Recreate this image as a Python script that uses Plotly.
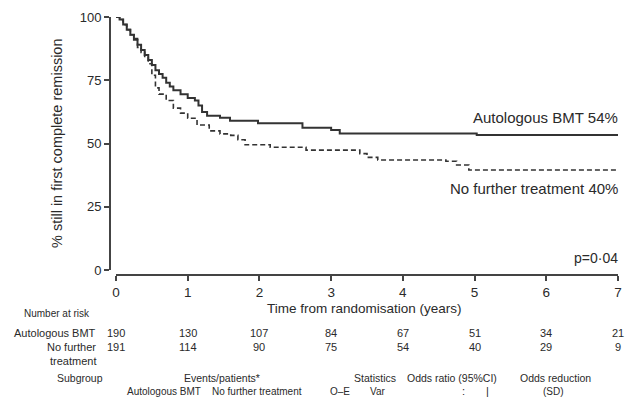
import plotly.graph_objects as go

# ---- data ----
years_bmt = [0, 0.05, 0.1, 0.15, 0.2, 0.25, 0.3, 0.35, 0.4, 0.45, 0.5, 0.55, 0.6, 0.65, 0.7,
             0.75, 0.8, 0.9, 1.0, 1.1, 1.15, 1.2, 1.27, 1.45, 1.59, 1.98, 2.6, 3.0, 3.12, 5.03, 7.0]
pct_bmt = [100, 99, 97, 95, 93, 91, 89, 87, 85, 83, 81, 79, 77.5, 76, 74,
           72.5, 71, 69.5, 68, 67, 65, 62.5, 61, 60.2, 59, 58, 56.2, 55.3, 54, 53.4, 53.4]

years_nft = [0, 0.05, 0.1, 0.15, 0.2, 0.25, 0.3, 0.35, 0.4, 0.45, 0.5, 0.55, 0.6, 0.7, 0.8,
             0.9, 1.0, 1.13, 1.3, 1.45, 1.6, 1.7, 1.8, 2.15, 2.65, 3.4, 3.5, 3.65, 4.6, 4.75, 4.92, 7.0]
pct_nft = [100, 99, 97, 95, 93, 91.5, 88, 86, 84, 81.5, 77, 72, 69.5, 67, 64,
           62, 60, 57.3, 55, 53.8, 53.2, 51.5, 49.5, 48.5, 47.4, 46, 44.5, 43.5, 43, 41.5, 39.5, 39.5]

x_ticks = [0, 1, 2, 3, 4, 5, 6, 7]
y_ticks = [0, 25, 50, 75, 100]
risk_bmt = [190, 130, 107, 84, 67, 51, 34, 21]
risk_nft = [191, 114, 90, 75, 54, 40, 29, 9]

OFF = 8  # page body margin
W, H = 635 - OFF, 404 - OFF
L, R, T, B = 110 - OFF, 618 - OFF, 17 - OFF, 275 - OFF  # plot area in figure pixels


def px(x):
    return (x - OFF - L) / (R - L)


def py(y):
    return (B - (y - OFF)) / (B - T)


INK = "#2a2a2a"
FONT = "Liberation Sans, Arial, sans-serif"

fig = go.Figure()
fig.add_trace(go.Scatter(x=years_bmt, y=pct_bmt, mode="lines", line_shape="hv",
                         line=dict(color="#333333", width=2), showlegend=False))
fig.add_trace(go.Scatter(x=years_nft, y=pct_nft, mode="lines", line_shape="hv",
                         line=dict(color="#333333", width=1.6, dash="5px,3px"), showlegend=False))

ann = []


def txt(x, y, s, size=10, xanchor="center", angle=0):
    ann.append(dict(x=px(x), y=py(y), xref="paper", yref="paper",
                    text=s, showarrow=False, xanchor=xanchor, yanchor="middle",
                    textangle=angle, font=dict(family=FONT, size=size, color=INK)))


txt(620, 117, "Autologous BMT 54%", 15, "right")
txt(620, 188, "No further treatment 40%", 15, "right")
txt(620, 258, "p=0·04", 14, "right")
txt(57, 143, "% still in first complete remission", 14.5, angle=-90)
txt(364, 308, "Time from randomisation (years)", 13.5)

txt(22, 313, "Number at risk", 10, "left")
txt(98, 333, "Autologous BMT", 11, "right")
txt(98, 347, "No further", 11, "right")
txt(98, 361, "treatment", 11, "right")
for t, n1, n2 in zip(x_ticks, risk_bmt, risk_nft):
    ann.append(dict(x=t, y=py(333), xref="x", yref="paper", text=str(n1), showarrow=False,
                    xanchor="center", yanchor="middle", font=dict(family=FONT, size=11, color=INK)))
    ann.append(dict(x=t, y=py(347), xref="x", yref="paper", text=str(n2), showarrow=False,
                    xanchor="center", yanchor="middle", font=dict(family=FONT, size=11, color=INK)))

txt(80, 378, "Subgroup", 10.5)
txt(222, 378, "Events/patients*", 10.5)
txt(375, 378, "Statistics", 10.5)
txt(452, 378, "Odds ratio (95%CI)", 10.5)
txt(555, 378, "Odds reduction", 10.5)
txt(164, 391, "Autologous BMT", 10)
txt(257, 391, "No further treatment", 10)
txt(340, 391, "O–E", 10)
txt(377, 391, "Var", 10)
txt(463, 391, ":", 11)
txt(487, 391, "|", 11)
txt(553, 391, "(SD)", 10)

shapes = [
    dict(type="line", xref="paper", yref="y", x0=0, x1=0, y0=0, y1=100,
         line=dict(color="#444444", width=2)),
    dict(type="line", xref="x", yref="paper", x0=0, x1=7, y0=0, y1=0,
         line=dict(color="#444444", width=2)),
]

y_lo = -(275 - 270) / ((270 - 17) / 100.0)
x_lo = -(116 - 110) / ((618 - 116) / 7.0)

fig.update_layout(
    width=W, height=H,
    margin=dict(l=L, r=W - R, t=T, b=H - B, pad=0, autoexpand=False),
    paper_bgcolor="white", plot_bgcolor="white",
    font=dict(family=FONT, color=INK),
    annotations=ann, shapes=shapes, showlegend=False,
    xaxis=dict(range=[x_lo, 7], tickvals=x_ticks, ticktext=[str(v) for v in x_ticks],
               ticks="outside", ticklen=5, tickwidth=2, tickcolor="#444444",
               showline=False, showgrid=False, zeroline=False, automargin=False,
               tickfont=dict(family=FONT, size=13.5, color=INK)),
    yaxis=dict(range=[y_lo, 100], tickvals=y_ticks, ticktext=[str(v) for v in y_ticks],
               ticks="outside", ticklen=5, tickwidth=2, tickcolor="#444444",
               showline=False, showgrid=False, zeroline=False, automargin=False,
               tickfont=dict(family=FONT, size=13, color=INK)),
)

fig.write_html("out.html")
